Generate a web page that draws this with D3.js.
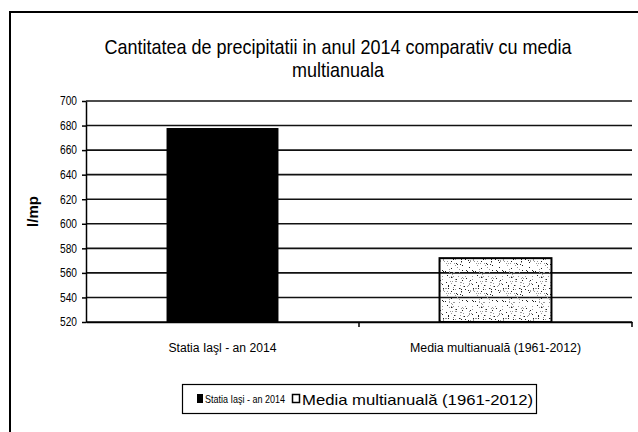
<!DOCTYPE html>
<html lang='en'>
<head>
	<meta charset='UTF-8'>
	<title>Precipitatii</title>
	<style>
		body { margin: 0; background: #fff; }
		text { font-family: "Liberation Sans", Arial, sans-serif; fill: #000; }
	</style>
</head>
<body>

<svg></svg>

<script src='https://d3js.org/d3.v7.min.js'></script>
<script>
// data
const categories = ['Statia Iaşl - an 2014', 'Media multianuală (1961-2012)']
const values = [678, 572]
const legendLabels = ['Statia Iaşi  - an 2014', 'Media multianuală (1961-2012)']
const yTicks = [520, 540, 560, 580, 600, 620, 640, 660, 680, 700]

const width = 638
const height = 432
const margin = { top: 101, right: 6, bottom: 110, left: 86 }

// the scan uses a narrow font, so squeeze the text to the measured widths
const catWidths = [108, 171]

const svg = d3.select('svg')
	.attr('width', width)
	.attr('height', height)

// stipple pattern for the second bar
const defs = svg.append('defs')
const pat = defs.append('pattern')
	.attr('id', 'stipple')
	.attr('patternUnits', 'userSpaceOnUse')
	.attr('width', 30)
	.attr('height', 30)
let seed = 11
const next = () => (seed = (seed * 9301 + 49297) % 233280) / 233280
for (let i = 0; i < 95; i++) {
	pat.append('rect')
		.attr('x', Math.floor(next() * 30))
		.attr('y', Math.floor(next() * 30))
		.attr('width', 1)
		.attr('height', 1)
		.attr('fill', next() < 0.4 ? '#222' : '#999')
}

// outer frame (only left and top visible in the scan)
svg.append('path')
	.attr('d', `M10,${height} L10,12 L${width},12`)
	.attr('fill', 'none')
	.attr('stroke', '#000')
	.attr('stroke-width', 2)

// title, squeezed horizontally like the narrow font of the scan
const title = svg.append('g')
	.attr('transform', 'translate(338,0) scale(0.9,1)')
title.append('text')
	.attr('x', 0).attr('y', 54)
	.attr('text-anchor', 'middle')
	.attr('font-size', 20)
	.text('Cantitatea de precipitatii in anul 2014 comparativ cu media')
title.append('text')
	.attr('x', 0).attr('y', 77)
	.attr('text-anchor', 'middle')
	.attr('font-size', 20)
	.text('multianuala')

const x = d3.scaleBand()
	.domain(categories)
	.range([margin.left, width - margin.right])
	.paddingInner(0.59)
	.paddingOuter(0.295)

const y = d3.scaleLinear()
	.domain([520, 700])
	.range([height - margin.bottom, margin.top])

// gridlines
svg.append('g')
	.selectAll('line')
	.data(yTicks)
	.join('line')
	.attr('x1', margin.left)
	.attr('x2', width - margin.right)
	.attr('y1', d => y(d))
	.attr('y2', d => y(d))
	.attr('stroke', '#111')
	.attr('stroke-width', 1.6)

// y axis
const yAxis = svg.append('g')
	.attr('transform', `translate(${margin.left},0)`)
	.call(d3.axisLeft(y).tickValues(yTicks).tickSize(4).tickSizeOuter(0).tickPadding(5))
yAxis.select('.domain').attr('stroke', '#000').attr('stroke-width', 1.5)
yAxis.selectAll('.tick line').attr('stroke', '#000').attr('stroke-width', 1.5)
yAxis.selectAll('text')
	.attr('font-size', 12)
	.attr('textLength', 17)
	.attr('lengthAdjust', 'spacingAndGlyphs')

// bars
svg.append('g')
	.selectAll('rect')
	.data(values)
	.join('rect')
	.attr('x', (d, i) => x(categories[i]))
	.attr('y', d => y(d))
	.attr('width', x.bandwidth())
	.attr('height', d => y(520) - y(d))
	.attr('fill', (d, i) => i === 0 ? '#000' : 'url(#stipple)')
	.attr('stroke', '#000')
	.attr('stroke-width', (d, i) => i === 0 ? 0 : 2)

// x axis
const xAxis = svg.append('g')
	.attr('transform', `translate(0,${y(520)})`)
	.call(d3.axisBottom(x).tickSize(0).tickPadding(21))
xAxis.select('.domain').attr('stroke', '#000').attr('stroke-width', 1.6)
xAxis.selectAll('text')
	.attr('font-size', 12)
	.attr('textLength', (d, i) => catWidths[i])
	.attr('lengthAdjust', 'spacingAndGlyphs')

// category separator ticks: between the bands and at the right end
const step = x.step()
svg.append('g')
	.selectAll('line')
	.data([x(categories[1]) - step * x.paddingInner() / 2, width - margin.right])
	.join('line')
	.attr('x1', d => d)
	.attr('x2', d => d)
	.attr('y1', y(520))
	.attr('y2', y(520) + 5)
	.attr('stroke', '#000')
	.attr('stroke-width', 1.5)

// y label
svg.append('text')
	.attr('transform', `translate(38,${(y(520) + y(700)) / 2}) rotate(-90)`)
	.attr('text-anchor', 'middle')
	.attr('font-size', 15)
	.attr('font-weight', 'bold')
	.text('l/mp')

// legend
const lg = svg.append('g')
lg.append('rect')
	.attr('x', 182.5).attr('y', 384.5)
	.attr('width', 354).attr('height', 29)
	.attr('fill', '#fff')
	.attr('stroke', '#000')
	.attr('stroke-width', 1.2)
lg.append('rect')
	.attr('x', 197).attr('y', 394).attr('width', 6).attr('height', 9)
	.attr('fill', '#000')
lg.append('text')
	.attr('x', 205).attr('y', 403)
	.attr('font-size', 11.5)
	.attr('textLength', 80)
	.attr('lengthAdjust', 'spacingAndGlyphs')
	.text(legendLabels[0])
lg.append('rect')
	.attr('x', 292.5).attr('y', 394.5).attr('width', 7).attr('height', 8)
	.attr('fill', '#fff')
	.attr('stroke', '#000')
	.attr('stroke-width', 1.5)
lg.append('text')
	.attr('x', 302).attr('y', 405)
	.attr('font-size', 15)
	.attr('textLength', 231)
	.attr('lengthAdjust', 'spacingAndGlyphs')
	.text(legendLabels[1])
</script>
</body>
</html>
